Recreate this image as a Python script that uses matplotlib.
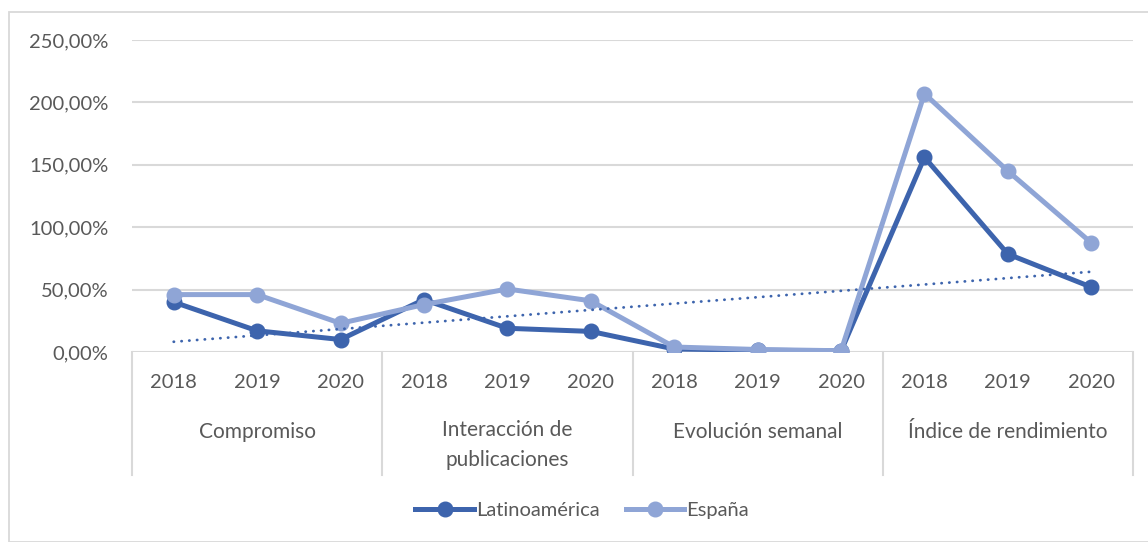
import matplotlib.pyplot as plt
from matplotlib.patches import Rectangle
import numpy as np

# Data (percent)
groups = ['Compromiso', 'Interacción de\npublicaciones', 'Evolución semanal', 'Índice de rendimiento']
years = ['2018', '2019', '2020']
latam = [40, 17, 10, 42, 19, 16.5, 2.4, 1.5, 0.8, 156, 78.5, 52]
espana = [46, 46, 23, 38, 50.5, 41, 4, 2, 1, 207, 145, 87.5]
# trend line of Latinoamérica (start / end values as drawn)
trend = [8.2, 64.3]
yticks = [0, 50, 100, 150, 200, 250]

dark = '#3D64AD'
light = '#8FA5D6'
grid = '#D9D9D9'
txt = '#595959'
fs = 14.5

plt.rcParams['font.family'] = ['Lato', 'DejaVu Sans']

W, H = 1148, 542
fig = plt.figure(figsize=(W / 100, H / 100), dpi=100)
fig.patches.append(Rectangle((8.5 / W, 0), 1.2, (H - 11.5) / H, transform=fig.transFigure,
                             fill=False, edgecolor=grid, linewidth=1.3))

# plot area in pixels
x0, x1, ytop, ybot = 132, 1133, 40, 352
ax = fig.add_axes([x0 / W, 1 - ybot / H, (x1 - x0) / W, (ybot - ytop) / H])
n = len(latam)
x = np.arange(n)
ax.set_xlim(-0.5, n - 0.5)
ax.set_ylim(0, 250)

for s in ax.spines.values():
    s.set_visible(False)
ax.set_yticks(yticks)
ax.set_yticklabels([f'{v:.2f}%'.replace('.', ',') for v in yticks])
ax.tick_params(axis='y', length=0, pad=17, labelsize=fs, labelcolor=txt)
ax.set_xticks([])
for v in yticks:
    ax.axhline(v, color=grid, lw=1.5, zorder=0)

ax.plot(x, latam, color=dark, lw=3.6, marker='o', ms=10.5, zorder=3,
        solid_joinstyle='round', label='Latinoamérica')
ax.plot(x, espana, color=light, lw=3.6, marker='o', ms=10.5, zorder=4,
        solid_joinstyle='round', label='España')
ax.plot([x[0], x[-1]], trend, color=dark, lw=2.0, linestyle=(0, (0.1, 2.7)),
        dash_capstyle='round', zorder=5)

# category axis: years, group names, separators
tr = ax.get_xaxis_transform()
hpx = ybot - ytop
for i in range(n):
    ax.text(x[i], -(383 - ybot) / hpx, years[i % 3], transform=tr, ha='center', va='center',
            fontsize=fs, color=txt)
for g, name in enumerate(groups):
    two = '\n' in name
    ax.text(g * 3 + 1, -((420 if two else 432) - ybot) / hpx, name, transform=tr, ha='center',
            va='top' if two else 'center', fontsize=fs + 0.5, color=txt, linespacing=1.6)
for g in range(len(groups) + 1):
    ax.plot([g * 3 - 0.5] * 2, [0, -(475 - ybot) / hpx], transform=tr, color=grid, lw=1.5, clip_on=False)

fig.legend(loc='center', bbox_to_anchor=(582 / W, 1 - 510 / H), ncol=2, frameon=False,
           fontsize=fs, labelcolor=txt, handlelength=2.9, handletextpad=0.1, columnspacing=1.3)

fig.savefig('out.png', dpi=100)
